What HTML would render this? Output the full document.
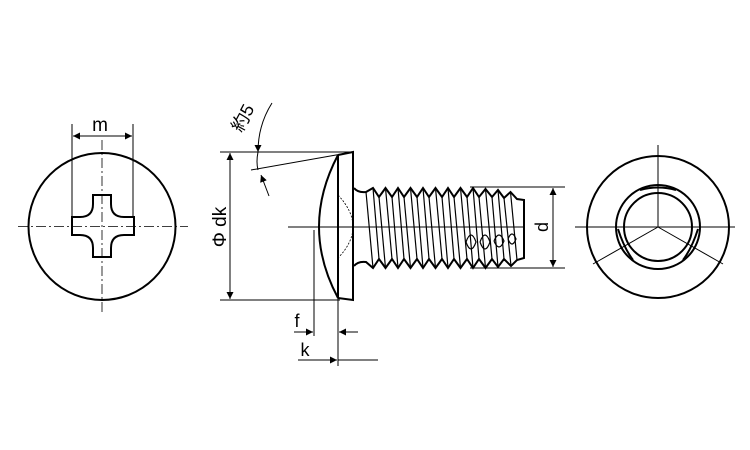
<!DOCTYPE html>
<html><head><meta charset="utf-8"><style>
html,body{margin:0;padding:0;background:#fff;width:750px;height:450px;overflow:hidden}
svg text{font-family:"Liberation Sans","Noto Sans CJK JP",sans-serif;fill:#000}
</style></head><body>
<svg width="750" height="450" viewBox="0 0 750 450" xmlns="http://www.w3.org/2000/svg">
<defs>
<marker id="a" viewBox="0 0 10 10" refX="10" refY="5" markerWidth="10" markerHeight="7" orient="auto-start-reverse" markerUnits="userSpaceOnUse"><path d="M0,0L10,5L0,10z" fill="#000"/></marker>
</defs>
<g fill="none" stroke="#000">
<!-- left view -->
<circle cx="102" cy="226.5" r="73.5" stroke-width="2"/>
<line x1="18" y1="226.5" x2="188" y2="226.5" stroke-width="0.8" stroke-dasharray="10,3,2,3"/>
<line x1="102" y1="140" x2="102" y2="313" stroke-width="0.8" stroke-dasharray="10,3,2,3"/>
<path d="M93,195H111V204Q111,217 124,217H134V235H124Q111,235 111,248V257H93V248Q93,235 80,235H72V217H80Q93,217 93,204Z" stroke-width="2"/>
<line x1="72" y1="124" x2="72" y2="217" stroke-width="1"/>
<line x1="133" y1="124" x2="133" y2="217" stroke-width="1"/>
<line x1="73" y1="136" x2="132" y2="136" stroke-width="1" marker-start="url(#a)" marker-end="url(#a)"/>

<!-- side view head -->
<path d="M338,155L353,152V300L338,298" stroke-width="2"/>
<line x1="338" y1="155" x2="338" y2="298" stroke-width="2"/>
<path d="M338,155Q300,227 338,298" stroke-width="2"/>
<path d="M338,195Q368,227 338,258" stroke-width="0.8" stroke-dasharray="2,1.5"/>
<line x1="220" y1="152" x2="353" y2="152" stroke-width="1"/>
<line x1="220" y1="300" x2="340" y2="300" stroke-width="1"/>
<line x1="230" y1="153" x2="230" y2="299" stroke-width="1" marker-start="url(#a)" marker-end="url(#a)"/>
<line x1="251" y1="170" x2="353" y2="152" stroke-width="1"/>
<path d="M272,103Q258,125 258,152" stroke-width="1" marker-end="url(#a)"/>
<path d="M258,152Q256,162 258,170" stroke-width="1"/>
<line x1="269" y1="196" x2="261" y2="175" stroke-width="1" marker-end="url(#a)"/>
<!-- f,k -->
<line x1="314" y1="230" x2="314" y2="336" stroke-width="1"/>
<line x1="338" y1="298" x2="338" y2="366" stroke-width="1"/>
<line x1="294" y1="332" x2="313" y2="332" stroke-width="1" marker-end="url(#a)"/>
<line x1="358" y1="332" x2="339" y2="332" stroke-width="1" marker-end="url(#a)"/>
<line x1="298" y1="360" x2="337" y2="360" stroke-width="1" marker-end="url(#a)"/>
<line x1="338" y1="360" x2="378" y2="360" stroke-width="1"/>
<!-- shank -->
<path d="M354,188Q358,193 366,192L373,188L379,197L385.5,188L392,197L398,188L404,197L410.5,188L417,197L423,188L429,197L435.5,188L442,197L448,188L454,197L460.5,188L467,197L473,188L479,197L485.5,189L492,197L498,190L504,198L510.5,192L517,199L524,200V258L517,260L511,266L504,259L498,267L492,259L485.5,268L479,259L473,268L467,259L460.5,268L454,259L448,268L442,259L435.5,268L429,259L423,268L417,259L410.5,268L404,259L398,268L392,259L385.5,268L379,259L373,268L366,262Q358,261 354,266" stroke-width="2"/>
<g stroke-width="1.2">
<line x1="366" y1="192" x2="373" y2="268"/>
<line x1="373" y1="188" x2="379" y2="259"/><line x1="379" y1="197" x2="385.5" y2="268"/>
<line x1="385.5" y1="188" x2="392" y2="259"/><line x1="392" y1="197" x2="398" y2="268"/>
<line x1="398" y1="188" x2="404" y2="259"/><line x1="404" y1="197" x2="410.5" y2="268"/>
<line x1="410.5" y1="188" x2="417" y2="259"/><line x1="417" y1="197" x2="423" y2="268"/>
<line x1="423" y1="188" x2="429" y2="259"/><line x1="429" y1="197" x2="435.5" y2="268"/>
<line x1="435.5" y1="188" x2="442" y2="259"/><line x1="442" y1="197" x2="448" y2="268"/>
<line x1="448" y1="188" x2="454" y2="259"/><line x1="454" y1="197" x2="460.5" y2="268"/>
<line x1="460.5" y1="188" x2="467" y2="259"/><line x1="467" y1="197" x2="473" y2="268"/>
<line x1="473" y1="188" x2="479" y2="259"/><line x1="479" y1="197" x2="485.5" y2="268"/>
<line x1="485.5" y1="189" x2="492" y2="259"/><line x1="492" y1="197" x2="498" y2="267"/>
<line x1="498" y1="190" x2="504" y2="259"/><line x1="504" y1="198" x2="511" y2="266"/>
<line x1="510.5" y1="192" x2="517" y2="260"/>
<path d="M466,242Q471,228 476,242Q471,256 466,242M480,242Q485,228 490,242Q485,256 480,242M494,241Q499,229 504,241Q499,253 494,241M508,239Q512,229 516,239Q512,249 508,239"/>
</g>
<line x1="288" y1="227" x2="525" y2="227" stroke-width="1"/>
<line x1="575" y1="227" x2="585" y2="227" stroke-width="1"/>
<line x1="470" y1="187" x2="565" y2="187" stroke-width="1"/>
<line x1="470" y1="268" x2="565" y2="268" stroke-width="1"/>
<line x1="553" y1="188" x2="553" y2="267" stroke-width="1" marker-start="url(#a)" marker-end="url(#a)"/>
<!-- right view -->
<circle cx="658" cy="227" r="71" stroke-width="2"/>
<circle cx="658" cy="227" r="42" stroke-width="2"/>
<circle cx="658" cy="227" r="34" stroke-width="2"/>
<path d="M640,190Q658,185 676,190" stroke-width="2"/>
<path d="M618,229Q624,248 633,260" stroke-width="2"/>
<path d="M698,229Q692,248 683,260" stroke-width="2"/>
<line x1="580" y1="227" x2="735" y2="227" stroke-width="1"/>
<line x1="658" y1="145" x2="658" y2="227" stroke-width="1"/>
<line x1="658" y1="227" x2="593" y2="264" stroke-width="1"/>
<line x1="658" y1="227" x2="723" y2="264" stroke-width="1"/>
</g>
<text x="100" y="131" font-size="19" text-anchor="middle">m</text>
<text x="232" y="227" font-size="19" text-anchor="middle" transform="rotate(-90 232 227)" dy="-6">Φ dk</text>
<text x="243" y="118" font-size="18" text-anchor="middle" transform="rotate(-62 243 118)" dy="6">約5</text>
<text x="297" y="327" font-size="18" text-anchor="middle">f</text>
<text x="305" y="356" font-size="18" text-anchor="middle">k</text>
<text x="553" y="227" font-size="18" text-anchor="middle" transform="rotate(-90 553 227)" dy="-5">d</text>
</svg>
</body></html>
